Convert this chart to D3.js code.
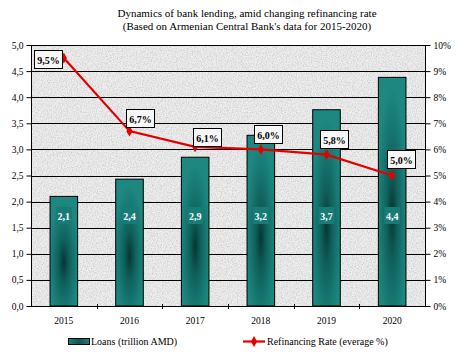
<!DOCTYPE html>
<html>
<head>
<meta charset="utf-8">
<script src="https://cdn.jsdelivr.net/npm/d3@7"></script>
<style>
  html, body { margin: 0; padding: 0; background: #ffffff; }
  svg { display: block; }
  text { font-family: "Liberation Serif", "DejaVu Serif", serif; }
</style>
</head>
<body>
<script>
// ---- data ----
const years = ["2015", "2016", "2017", "2018", "2019", "2020"];
const loans = [2.1, 2.43, 2.85, 3.27, 3.76, 4.38];
const loanLabels = ["2,1", "2,4", "2,9", "3,2", "3,7", "4,4"];
const rates = [9.5, 6.7, 6.1, 6.0, 5.8, 5.0];
const rateLabels = ["9,5%", "6,7%", "6,1%", "6,0%", "5,8%", "5,0%"];
const leftTicks = [0, 0.5, 1, 1.5, 2, 2.5, 3, 3.5, 4, 4.5, 5];
const rightTicks = [0, 1, 2, 3, 4, 5, 6, 7, 8, 9, 10];
const titleLines = ["Dynamics of bank lending, amid changing refinancing rate",
                    "(Based on Armenian Central Bank's data for 2015-2020)"];
const legendNames = ["Loans (trillion AMD)", "Refinancing Rate  (everage %)"];

// ---- layout ----
const W = 462, H = 355;
const L = 31, R = 425, T = 45, B = 306;

const svg = d3.select("body").append("svg").attr("width", W).attr("height", H);
const defs = svg.append("defs");

// granite-like texture
const f = defs.append("filter").attr("id", "grain").attr("x", 0).attr("y", 0).attr("width", 1).attr("height", 1);
f.append("feTurbulence").attr("type", "fractalNoise").attr("baseFrequency", 0.8).attr("numOctaves", 2).attr("seed", 3).attr("result", "n");
f.append("feColorMatrix").attr("in", "n").attr("type", "matrix")
  .attr("values", "0 0 0 0 0.55  0 0 0 0 0.55  0 0 0 0 0.55  1.7 0 0 0 -0.66");

// bar gradient
const g = defs.append("radialGradient").attr("id", "barGrad").attr("cx", "50%").attr("cy", "60%").attr("r", "55%");
g.append("stop").attr("offset", "0%").attr("stop-color", "#063633");
g.append("stop").attr("offset", "35%").attr("stop-color", "#0f5f5a");
g.append("stop").attr("offset", "75%").attr("stop-color", "#187a74");
g.append("stop").attr("offset", "100%").attr("stop-color", "#1d8780");

const legGrad = defs.append("linearGradient").attr("id", "legGrad").attr("x1", 0).attr("x2", 1);
legGrad.append("stop").attr("offset", "0%").attr("stop-color", "#1a827b");
legGrad.append("stop").attr("offset", "50%").attr("stop-color", "#0c5a55");
legGrad.append("stop").attr("offset", "100%").attr("stop-color", "#1a827b");

// scales
const x = d3.scaleBand().domain(years).range([L, R]).paddingInner(0.58).paddingOuter(0.29);
const xc = d => x(d) + x.bandwidth() / 2;
const yL = d3.scaleLinear().domain([0, 5]).range([B, T]);
const yR = d3.scaleLinear().domain([0, 10]).range([B, T]);

// plot background
svg.append("rect").attr("x", L).attr("y", T).attr("width", R - L).attr("height", B - T).attr("fill", "#eeeeee");
svg.append("rect").attr("x", L).attr("y", T).attr("width", R - L).attr("height", B - T).attr("filter", "url(#grain)");

// gridlines
svg.append("g").selectAll("line").data(leftTicks.filter(d => d > 0)).join("line")
  .attr("x1", L).attr("x2", R).attr("y1", d => Math.round(yL(d)) + 0.5).attr("y2", d => Math.round(yL(d)) + 0.5)
  .attr("stroke", "#000").attr("stroke-width", 1);

// bars
svg.append("g").selectAll("rect").data(years).join("rect")
  .attr("x", d => x(d)).attr("width", x.bandwidth())
  .attr("y", (d, i) => yL(loans[i])).attr("height", (d, i) => B - yL(loans[i]))
  .attr("fill", "url(#barGrad)").attr("stroke", "#000").attr("stroke-width", 1);

// bar value labels
const bl = svg.append("g");
years.forEach((d, i) => {
  bl.append("rect").attr("x", xc(d) - 8).attr("y", 207).attr("width", 16).attr("height", 17).attr("fill", "#177c76");
  bl.append("text").attr("x", xc(d)).attr("y", 219.5).attr("text-anchor", "middle")
    .attr("font-size", 10).attr("font-weight", "bold").attr("fill", "#ffffff").text(loanLabels[i]);
});

// axes
const axL = svg.append("g").attr("transform", `translate(${L + 0.5},0)`)
  .call(d3.axisLeft(yL).tickValues(leftTicks).tickSize(5).tickPadding(3).tickFormat(d => d3.format(".1f")(d).replace(".", ",")));
const axR = svg.append("g").attr("transform", `translate(${R + 0.5},0)`)
  .call(d3.axisRight(yR).tickValues(rightTicks).tickSize(5).tickPadding(3).tickFormat(d => d + "%"));
[axL, axR].forEach(a => {
  a.select(".domain").attr("stroke", "#000").attr("d", `M0,${T}V${B}`);
  a.selectAll(".tick line").attr("stroke", "#000");
  a.selectAll(".tick text").attr("font-family", "Liberation Serif").attr("font-size", 9.5).attr("fill", "#000");
});

// bottom axis
const bx = svg.append("g");
bx.append("line").attr("x1", L).attr("x2", R + 5).attr("y1", B + 0.5).attr("y2", B + 0.5).attr("stroke", "#000");
const step = x.step();
d3.range(1, years.length).forEach(k => {
  const xx = Math.round(L + step * k) + 0.5;
  bx.append("line").attr("x1", xx).attr("x2", xx).attr("y1", B - 2).attr("y2", B + 3).attr("stroke", "#000");
});
bx.selectAll("text").data(years).join("text")
  .attr("x", d => xc(d)).attr("y", 324).attr("text-anchor", "middle")
  .attr("font-size", 9.5).attr("fill", "#000").text(d => d);

// line
const line = d3.line().x((d, i) => xc(years[i])).y(d => yR(d));
svg.append("path").datum(rates).attr("d", line).attr("fill", "none")
  .attr("stroke", "#e30000").attr("stroke-width", 2.2);
svg.append("g").selectAll("path").data(rates).join("path")
  .attr("transform", (d, i) => `translate(${xc(years[i])},${yR(d)})`)
  .attr("d", d3.symbol(d3.symbolDiamond, 34)).attr("fill", "#e30000");

// rate label boxes
const off = [[-30, -8], [-4, -22], [-2, -19], [-7, -24], [-7, -25], [-5, -26]];
const rl = svg.append("g");
rates.forEach((r, i) => {
  const px = xc(years[i]), py = yR(r);
  const bx0 = Math.round(px + off[i][0]) + 0.5, by0 = Math.round(py + off[i][1]) + 0.5;
  rl.append("rect").attr("x", bx0).attr("y", by0).attr("width", 28).attr("height", 18)
    .attr("fill", "#f7f7f7").attr("stroke", "#000").attr("stroke-width", 1);
  rl.append("text").attr("x", bx0 + 14).attr("y", by0 + 13).attr("text-anchor", "middle")
    .attr("font-size", 10).attr("font-weight", "bold").attr("fill", "#000").text(rateLabels[i]);
});

// title
svg.append("g").selectAll("text").data(titleLines).join("text")
  .attr("x", 247).attr("y", (d, i) => 17 + i * 13).attr("text-anchor", "middle")
  .attr("font-size", 11).attr("fill", "#000").text(d => d);

// legend
const lg = svg.append("g");
lg.append("rect").attr("x", 68.5).attr("y", 338.5).attr("width", 21).attr("height", 6)
  .attr("fill", "url(#legGrad)").attr("stroke", "#000");
lg.append("text").attr("x", 91).attr("y", 345).attr("font-size", 10).attr("fill", "#000").text(legendNames[0]);
lg.append("line").attr("x1", 243).attr("x2", 265).attr("y1", 341.5).attr("y2", 341.5).attr("stroke", "#e30000").attr("stroke-width", 2.2);
lg.append("path").attr("transform", "translate(254,341.5)").attr("d", d3.symbol(d3.symbolDiamond, 34)).attr("fill", "#e30000");
lg.append("text").attr("x", 267).attr("y", 345).attr("font-size", 10).attr("fill", "#000").text(legendNames[1]);
</script>
</body>
</html>
